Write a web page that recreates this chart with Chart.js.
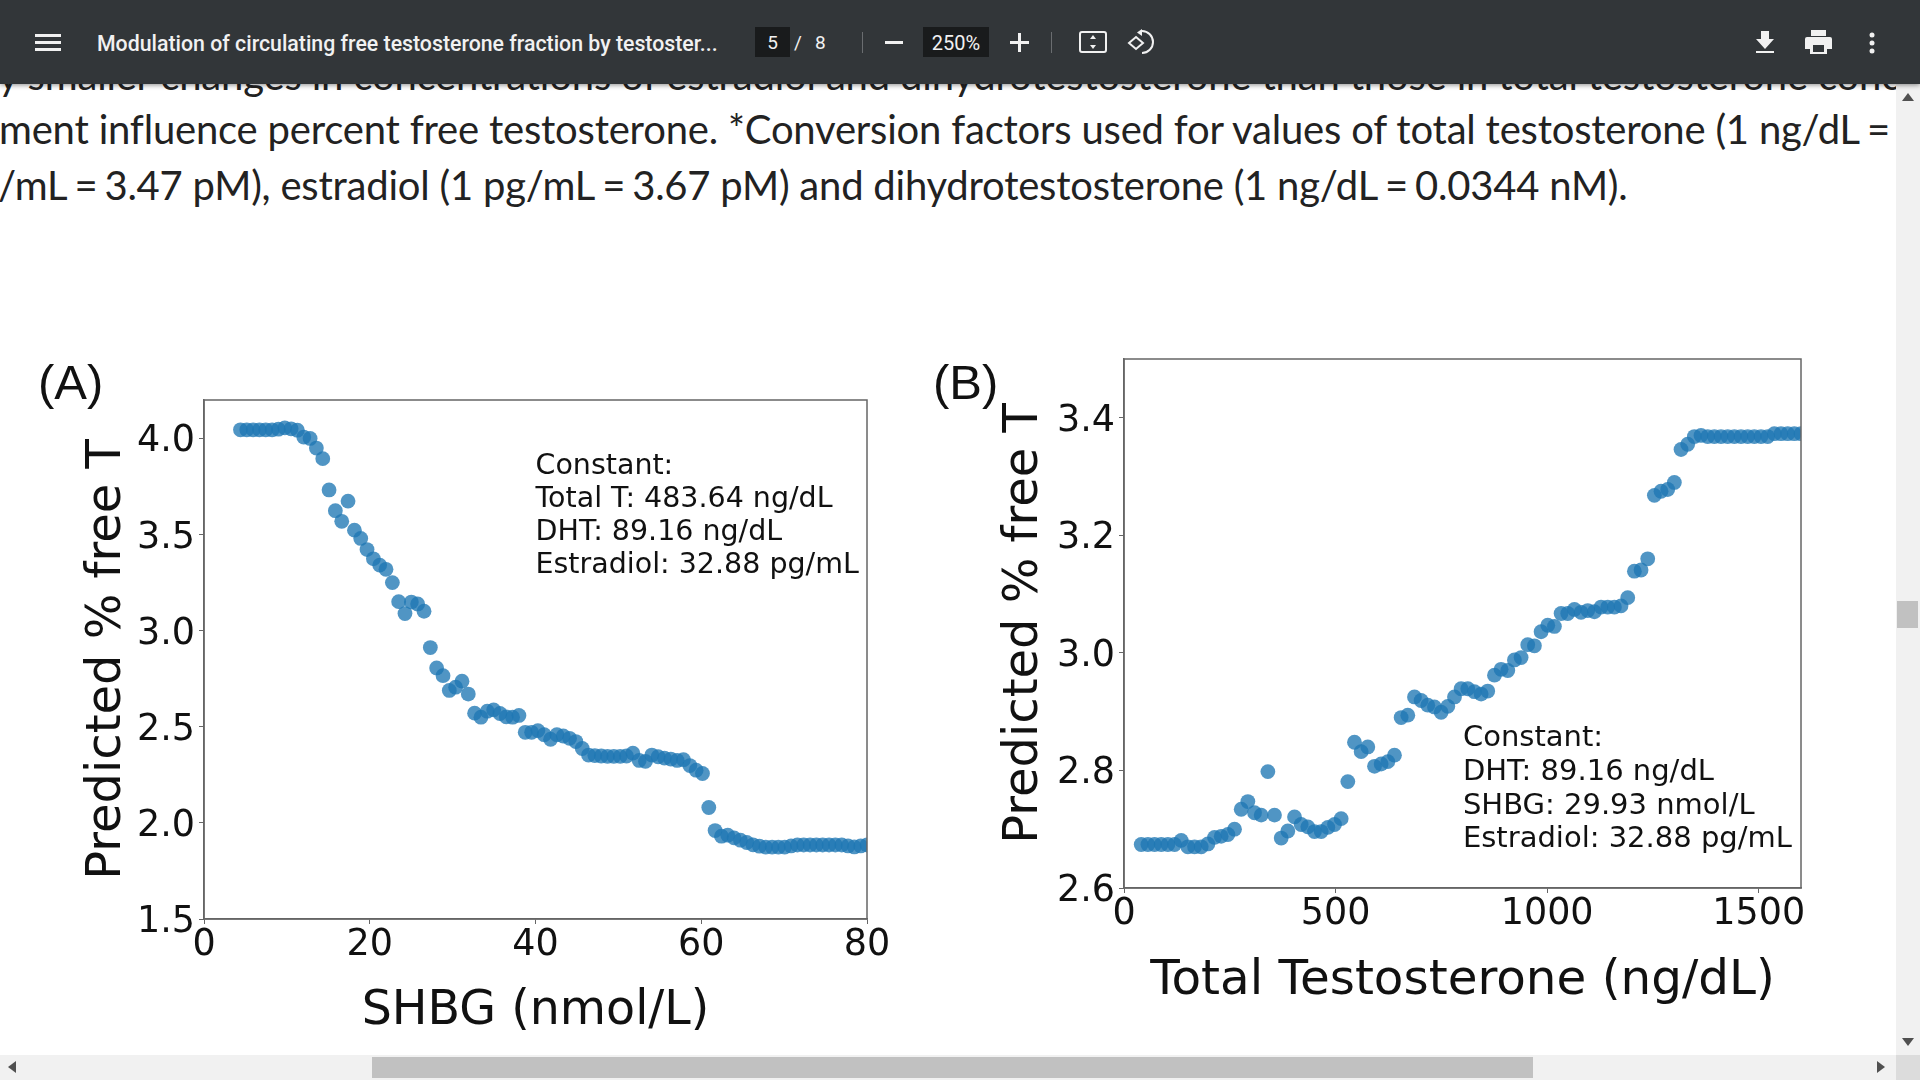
<!DOCTYPE html>
<html><head><meta charset="utf-8">
<script src="https://cdn.jsdelivr.net/npm/chart.js@4"></script>
<style>
html,body{margin:0;padding:0;width:1920px;height:1080px;overflow:hidden;background:#fff;font-family:Lato,sans-serif}
.abs{position:absolute;white-space:nowrap}
#bar{position:absolute;left:0;top:0;width:1920px;height:84px;background:#323639;box-shadow:0 1px 5px rgba(0,0,0,.45);z-index:5;color:#f1f1f1;font-family:Roboto,sans-serif}
.body{font-family:Lato,sans-serif;font-size:40px;line-height:48px;color:#222;letter-spacing:-.17px}
.eq{word-spacing:-3px}
canvas{position:absolute;display:block}
.panel{font-family:"Liberation Sans",sans-serif;font-size:49px;color:#111;line-height:54px}
#vs{position:absolute;left:1896px;top:84px;width:24px;height:971px;background:#f1f1f1;z-index:4}
#hs{position:absolute;left:0;top:1055px;width:1920px;height:25px;background:#f1f1f1;z-index:4}
</style></head><body>
<div class="abs body" style="left:-2px;top:51px">y smaller changes in concentrations of estradiol and dihydrotestosterone than those in total testosterone conc</div>
<div class="abs body" style="left:-1px;top:105px;letter-spacing:-.2px">ment influence percent free testosterone. *Conversion factors used for values of total testosterone (1 ng/dL<span class="eq"> =</span></div>
<div class="abs body" style="left:-2px;top:161px;letter-spacing:-.22px">/mL<span class="eq"> = </span>3.47 pM), estradiol (1 pg/mL<span class="eq"> = </span>3.67 pM) and dihydrotestosterone (1 ng/dL<span class="eq"> = </span>0.0344 nM).</div>

<canvas id="chartA" width="850" height="670" style="left:76px;top:370px;width:850px;height:670px"></canvas>
<canvas id="chartB" width="854" height="711" style="left:996px;top:329px;width:854px;height:711px"></canvas>
<div class="abs panel" style="left:38px;top:355px">(A)</div>
<div class="abs panel" style="left:933px;top:355px">(B)</div>
<div class="abs panel" style="left:45px;top:1046px">(C)</div>
<div class="abs panel" style="left:975px;top:1046px">(D)</div>

<div id="bar">
 <svg class="abs" style="left:35px;top:33px" width="26" height="18"><path d="M0 1h26v3H0zM0 8h26v3H0zM0 15h26v3H0z" fill="#f1f1f1"/></svg>
 <div class="abs" style="left:97px;top:30px;font-size:21.3px;line-height:28px;font-weight:500;width:622px">Modulation of circulating free testosterone fraction by testoster...</div>
 <div class="abs" style="left:755px;top:27px;width:35px;height:30px;background:#191b1c"></div>
 <div class="abs" style="left:755px;top:30px;width:35px;text-align:center;font-size:19px;line-height:26px">5</div>
 <div class="abs" style="left:794px;top:30px;font-size:19px;line-height:26px">/</div>
 <div class="abs" style="left:815px;top:30px;font-size:19px;line-height:26px">8</div>
 <div class="abs" style="left:862px;top:32px;width:1px;height:21px;background:#6a6d70"></div>
 <div class="abs" style="left:885px;top:41px;width:18px;height:3px;background:#f1f1f1"></div>
 <div class="abs" style="left:923px;top:27px;width:66px;height:30px;background:#191b1c"></div>
 <div class="abs" style="left:923px;top:30px;width:66px;text-align:center;font-size:20px;line-height:26px">250%</div>
 <svg class="abs" style="left:1010px;top:33px" width="19" height="19"><path d="M8 0h3v8h8v3h-8v8H8v-8H0V8h8z" fill="#f1f1f1"/></svg>
 <div class="abs" style="left:1051px;top:32px;width:1px;height:21px;background:#6a6d70"></div>
 <svg class="abs" style="left:1079px;top:31px" width="28" height="22"><rect x="1" y="1" width="26" height="20" rx="2" fill="none" stroke="#f1f1f1" stroke-width="2"/><path d="M14 4l3 4h-6zM14 18l3-4h-6z" fill="#f1f1f1"/></svg>
 <svg class="abs" style="left:1127px;top:29px" width="28" height="26"><path d="M15 2a11 11 0 1 1 0 22" fill="none" stroke="#f1f1f1" stroke-width="2"/><path d="M15 0v7l-5-3.500z" fill="#f1f1f1"/><path d="M9 8l7 6-7 6-7-6z" fill="none" stroke="#f1f1f1" stroke-width="2"/></svg>
 <svg class="abs" style="left:1755px;top:31px" width="20" height="22"><path d="M6 0h8v8h5l-9 10L1 8h5zM1 20h18v2H1z" fill="#f1f1f1"/></svg>
 <svg class="abs" style="left:1805px;top:30px" width="27" height="24"><path d="M6 0h15v6H6zM2 7h23a2 2 0 0 1 2 2v10h-5v5H5v-5H0V9a2 2 0 0 1 2-2z" fill="#f1f1f1"/><rect x="8" y="15" width="11" height="7" fill="#323639"/></svg>
 <svg class="abs" style="left:1868px;top:32px" width="8" height="22"><circle cx="4" cy="3" r="2.500" fill="#f1f1f1"/><circle cx="4" cy="11" r="2.500" fill="#f1f1f1"/><circle cx="4" cy="19" r="2.500" fill="#f1f1f1"/></svg>
</div>

<div id="vs">
 <svg class="abs" style="left:6px;top:9px" width="12" height="8"><path d="M6 0l6 8H0z" fill="#505050"/></svg>
 <div class="abs" style="left:1px;top:517px;width:21px;height:27px;background:#c1c1c1"></div>
 <svg class="abs" style="left:6px;top:954px" width="12" height="8"><path d="M0 0h12L6 8z" fill="#505050"/></svg>
</div>
<div id="hs">
 <svg class="abs" style="left:8px;top:6px" width="8" height="12"><path d="M8 0v12L0 6z" fill="#505050"/></svg>
 <div class="abs" style="left:372px;top:2px;width:1161px;height:21px;background:#c1c1c1"></div>
 <svg class="abs" style="left:1877px;top:6px" width="8" height="12"><path d="M0 0l8 6-8 6z" fill="#505050"/></svg>
 <div class="abs" style="left:1896px;top:0;width:24px;height:25px;background:#dcdcdc"></div>
</div>

<script>
const shbg = [4.40,5.16,5.93,6.69,7.45,8.22,8.98,9.75,10.51,11.27,12.04,12.80,13.56,14.33,15.09,15.85,16.62,17.38,18.15,18.91,19.67,20.44,21.20,21.96,22.73,23.49,24.25,25.02,25.78,26.55,27.31,28.07,28.84,29.60,30.36,31.13,31.89,32.65,33.42,34.18,34.95,35.71,36.47,37.24,38.00,38.76,39.53,40.29,41.05,41.82,42.58,43.35,44.11,44.87,45.64,46.40,47.16,47.93,48.69,49.45,50.22,50.98,51.75,52.51,53.27,54.04,54.80,55.56,56.33,57.09,57.85,58.62,59.38,60.15,60.91,61.67,62.44,63.20,63.96,64.73,65.49,66.25,67.02,67.78,68.55,69.31,70.07,70.84,71.60,72.36,73.13,73.89,74.65,75.42,76.18,76.95,77.71,78.47,79.24,80.00];
const freeA = [4.045,4.045,4.045,4.045,4.045,4.045,4.048,4.055,4.05,4.043,4.007,4.0,3.95,3.895,3.732,3.624,3.569,3.674,3.523,3.48,3.422,3.374,3.341,3.319,3.25,3.151,3.089,3.149,3.139,3.101,2.912,2.806,2.766,2.689,2.706,2.737,2.67,2.571,2.55,2.581,2.588,2.569,2.552,2.55,2.559,2.471,2.471,2.48,2.459,2.435,2.459,2.452,2.44,2.423,2.387,2.353,2.35,2.348,2.346,2.346,2.346,2.348,2.363,2.325,2.32,2.353,2.344,2.337,2.332,2.325,2.329,2.298,2.274,2.257,2.08,1.96,1.931,1.936,1.922,1.91,1.898,1.886,1.879,1.874,1.874,1.874,1.874,1.88,1.885,1.885,1.885,1.885,1.885,1.885,1.885,1.885,1.88,1.875,1.88,1.885];
const totalT = [40.7,56.5,72.2,88,103.7,119.5,135.2,151,166.7,182.5,198.2,214,229.7,245.5,261.2,277,292.7,308.5,324.2,340,355.7,371.5,387.2,403,418.7,434.5,450.2,466,481.7,497.5,513.2,529,544.7,560.5,576.2,592,607.7,623.5,639.2,655,670.7,686.5,702.2,718,733.7,749.5,765.2,781,796.7,812.5,828.2,844,859.7,875.5,891.2,907,922.7,938.5,954.2,970,985.7,1001.5,1017.2,1033,1048.7,1064.5,1080.2,1096,1111.7,1127.5,1143.2,1159,1174.7,1190.5,1206.2,1222,1237.7,1253.5,1269.2,1285,1300.7,1316.5,1332.2,1348,1363.7,1379.5,1395.2,1411,1426.7,1442.5,1458.2,1474,1489.7,1505.5,1521.2,1537,1552.7,1568.5,1584.2,1600];
const freeB = [2.674,2.674,2.674,2.674,2.674,2.674,2.681,2.670,2.670,2.670,2.675,2.686,2.688,2.691,2.700,2.734,2.747,2.728,2.724,2.798,2.724,2.685,2.697,2.721,2.708,2.704,2.696,2.696,2.703,2.708,2.718,2.781,2.848,2.832,2.840,2.807,2.811,2.815,2.826,2.890,2.894,2.925,2.919,2.911,2.908,2.899,2.909,2.925,2.939,2.939,2.934,2.930,2.935,2.962,2.972,2.970,2.988,2.992,3.014,3.012,3.036,3.047,3.045,3.067,3.067,3.074,3.069,3.072,3.070,3.078,3.078,3.078,3.080,3.094,3.139,3.141,3.160,3.268,3.275,3.278,3.290,3.346,3.355,3.368,3.370,3.368,3.368,3.368,3.368,3.368,3.368,3.368,3.368,3.368,3.368,3.373,3.373,3.373,3.373,3.373];
const xTicksA = [0,20,40,60,80];
const yTicksA = [1.5,2.0,2.5,3.0,3.5,4.0];
const xTicksB = [0,500,1000,1500];
const yTicksB = [2.6,2.8,3.0,3.2,3.4];
const noteA = ["Constant:","Total T: 483.64 ng/dL","DHT: 89.16 ng/dL","Estradiol: 32.88 pg/mL"];
const noteB = ["Constant:","DHT: 89.16 ng/dL","SHBG: 29.93 nmol/L","Estradiol: 32.88 pg/mL"];

const FONT = '"DejaVu Sans", sans-serif';
const INK = '#111';
const SPINE = '#666';
const frame = {id:'frame',afterDatasetsDraw(c,a,o){
  const g=c.ctx,r=c.chartArea;g.save();
  g.strokeStyle=SPINE;g.lineWidth=1.5;g.strokeRect(r.left,r.top,r.width,r.height);
  g.fillStyle=INK;g.font=o.size+'px '+FONT;g.textBaseline='middle';g.textAlign='left';
  const x=c.scales.x.getPixelForValue(o.x);
  o.lines.forEach((t,i)=>g.fillText(t,x,c.scales.y.getPixelForValue(o.y)+i*o.step));
  g.restore();
}};
function make(id,xs,ys,cfg){
  new Chart(document.getElementById(id),{
    type:'scatter',
    data:{datasets:[{data:xs.map((x,i)=>({x,y:ys[i]})),backgroundColor:'rgba(31,119,180,0.78)',borderWidth:0,pointRadius:7.4,clip:0}]},
    plugins:[frame],
    options:{responsive:false,animation:false,devicePixelRatio:1,
      layout:{padding:cfg.pad},
      plugins:{legend:{display:false},tooltip:{enabled:false},frame:{lines:cfg.note,x:cfg.nx,y:cfg.ny,step:cfg.step,size:cfg.ns}},
      scales:{
        x:{type:'linear',min:cfg.xr[0],max:cfg.xr[1],
          afterBuildTicks:s=>{s.ticks=cfg.xt.map(v=>({value:v}))},
          afterFit:s=>{s.height=cfg.xh},
          grid:{drawOnChartArea:false,drawTicks:true,tickLength:5,color:SPINE},border:{color:SPINE,width:1.5},
          ticks:{color:INK,font:{family:FONT,size:36.5},padding:0,maxRotation:0,autoSkip:false,callback:v=>String(v)},
          title:{display:true,text:cfg.xl,color:INK,font:{family:FONT,size:cfg.xs,lineHeight:1},padding:cfg.xtp}},
        y:{type:'linear',min:cfg.yr[0],max:cfg.yr[1],
          afterBuildTicks:s=>{s.ticks=cfg.yt.map(v=>({value:v}))},
          afterFit:s=>{s.width=cfg.yw},
          grid:{drawOnChartArea:false,drawTicks:true,tickLength:5,color:SPINE},border:{color:SPINE,width:1.5},
          ticks:{color:INK,font:{family:FONT,size:36.5,lineHeight:'7px'},padding:4,autoSkip:false,callback:v=>['',v.toFixed(1)]},
          title:{display:true,text:'Predicted % free T',color:INK,font:{family:FONT,size:48,lineHeight:1},padding:{top:cfg.ytp,bottom:0}}}
      }}
  });
}
make('chartA',shbg,freeA,{pad:{top:30,right:59,left:0,bottom:0},xr:[0,80],yr:[1.5,4.2],xt:xTicksA,yt:yTicksA,xh:121,yw:128,xl:'SHBG (nmol/L)',xs:47.5,xtp:{top:0,bottom:5},ytp:8,note:noteA,nx:40.0,ny:3.853,step:33,ns:28.5});
make('chartB',totalT,freeB,{pad:{top:30,right:49,left:0,bottom:0},xr:[0,1600],yr:[2.6,3.5],xt:xTicksB,yt:yTicksB,xh:152,yw:128,xl:'Total Testosterone (ng/dL)',xs:48.4,xtp:{top:0,bottom:34},ytp:5,note:noteB,nx:801,ny:2.854,step:33.7,ns:29});
</script>
</body></html>
